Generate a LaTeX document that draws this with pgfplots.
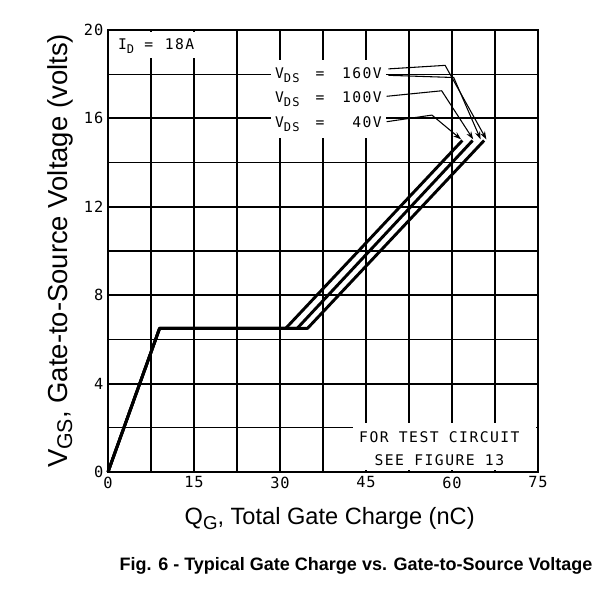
\documentclass[border=0pt]{standalone}
\usepackage{pgfplots}
\pgfplotsset{compat=1.18}
\usetikzlibrary{arrows.meta}
\usepackage{fontspec}
\setmainfont{Liberation Sans}
\newfontfamily\mono[LetterSpace=10]{DejaVu Sans Mono}
\newfontfamily\tickfont[LetterSpace=6]{DejaVu Sans Mono}
\newcommand\msub[1]{\raisebox{-0.45ex}{\fontsize{9}{9}\selectfont #1}}
\begin{document}
\begin{tikzpicture}
\useasboundingbox (-81pt,-87.75pt) rectangle (376.5pt,354pt);
\begin{axis}[
  at={(0,0)}, anchor=south west, scale only axis,
  width=322.5pt, height=331.5pt,
  xmin=0, xmax=75, ymin=0, ymax=20,
  xtick={0,15,...,75}, ytick={0,4,...,20},
  minor xtick={7.5,22.5,37.5,52.5,67.5},
  minor ytick={2,6,10,14,18},
  grid=both,
  major grid style={black, line width=1.5pt},
  minor grid style={black, line width=0.9pt},
  axis line style={black, line width=1.8pt},
  major tick length=0pt, minor tick length=0pt,
  tick label style={font=\tickfont\fontsize{11.5}{13}\selectfont},
  /pgf/number format/assume math mode=true,
  xlabel={Q\raisebox{-0.35ex}{\fontsize{14}{14}\selectfont G}, Total Gate Charge (nC)},
  ylabel={V\raisebox{-0.35ex}{\fontsize{16}{16}\selectfont GS}, Gate-to-Source Voltage (volts)},
  xlabel style={font=\fontsize{17.7}{20}\selectfont, at={(axis description cs:0.5,0)}, anchor=center, yshift=-35pt, xshift=5pt},
  ylabel style={font=\fontsize{20.6}{23}\selectfont, at={(axis description cs:0,0.5)}, anchor=center, yshift=36pt},
  clip=false,
]
% white areas behind annotations
\fill[white] (axis cs:28.4,15.1) rectangle (axis cs:48.5,18.65);
\fill[white] (axis cs:0.4,18.75) rectangle (axis cs:20,19.9);
\fill[white] (axis cs:42.8,0.1) rectangle (axis cs:74.6,2.2);

% gate charge curves
\addplot[black, line width=2.2pt, line join=round] coordinates {(0,0) (9,6.5) (31,6.5) (61.8,15)};
\addplot[black, line width=2.2pt, line join=round] coordinates {(0,0) (9,6.5) (33,6.5) (63.6,15)};
\addplot[black, line width=2.2pt, line join=round] coordinates {(0,0) (9,6.5) (34.8,6.5) (65.6,15)};

% leader lines
\addplot[black, line width=0.8pt, -{Stealth[length=6pt,width=4pt]}] coordinates {(48.9,18.24) (58.8,18.4) (66.0,15.05)};
\addplot[black, line width=0.8pt, -{Stealth[length=6pt,width=4pt]}] coordinates {(48.9,17.95) (60.3,17.85) (65.0,15.05)};
\addplot[black, line width=0.8pt, -{Stealth[length=6pt,width=4pt]}] coordinates {(48.6,17.0) (58.2,17.25) (63.7,15.05)};
\addplot[black, line width=0.8pt, -{Stealth[length=6pt,width=4pt]}] coordinates {(48.6,15.85) (56.5,16.15) (61.6,15.05)};

% labels
\node[anchor=base west, font=\mono\fontsize{11}{13}\selectfont, inner sep=0] at (axis cs:1.7,19.1) {I\msub{D}\hspace{0.7em}=\hspace{0.8em}18A};
\node[anchor=base west, font=\mono\fontsize{11}{13}\selectfont, inner sep=0] at (axis cs:29.1,17.8) {V\msub{DS}\hspace{1.1em}=};
\node[anchor=base east, font=\mono\fontsize{11}{13}\selectfont, inner sep=0] at (axis cs:47.8,17.8) {160V};
\node[anchor=base west, font=\mono\fontsize{11}{13}\selectfont, inner sep=0] at (axis cs:29.1,16.7) {V\msub{DS}\hspace{1.1em}=};
\node[anchor=base east, font=\mono\fontsize{11}{13}\selectfont, inner sep=0] at (axis cs:47.8,16.7) {100V};
\node[anchor=base west, font=\mono\fontsize{11}{13}\selectfont, inner sep=0] at (axis cs:29.1,15.57) {V\msub{DS}\hspace{1.1em}=};
\node[anchor=base east, font=\mono\fontsize{11}{13}\selectfont, inner sep=0] at (axis cs:47.8,15.57) {40V};
\node[align=center, font=\mono\fontsize{11}{17.25}\selectfont, inner sep=0] at (axis cs:57.8,1.06) {FOR TEST CIRCUIT\\SEE FIGURE 13};
\end{axis}
\node[font=\bfseries\fontsize{13.5}{16}\selectfont] at (186pt,-70.5pt) {Fig. 6 - Typical Gate Charge vs. Gate-to-Source Voltage};
\end{tikzpicture}
\end{document}
